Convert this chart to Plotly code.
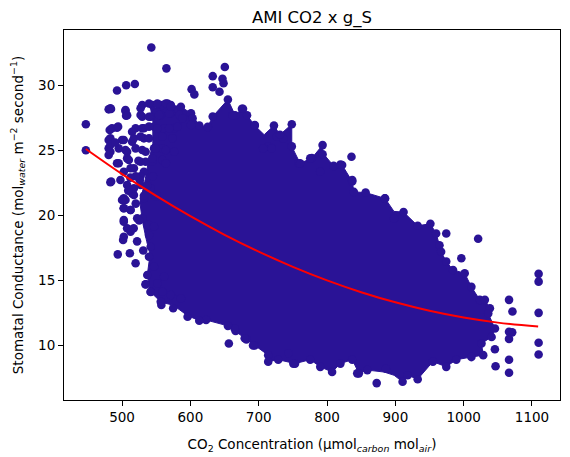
import plotly.graph_objs as go

# Outline of the solid (fully overplotted) part of the cloud, through the edge dots
core_x = [541.0, 571.4, 586.1, 600.9, 613.1, 625.4, 632.7, 654.9, 665.5, 675.5,
          682.9, 694.2, 708.0, 722.3, 731.1, 748.4, 748.4, 760.6, 777.8, 793.5,
          794.1, 809.7, 822.1, 836.9, 839.3, 856.5, 885.0, 898.0, 912.0, 932.7,
          951.3, 959.7, 964.6, 967.0, 974.5, 984.4, 1001.5, 1011.3, 1023.6, 1031.0,
          1038.4, 1036.0, 1045.8, 1040.9, 1026.1, 1028.6, 1011.3, 989.2, 974.5, 954.9,
          932.7, 918.0, 910.6, 898.2, 883.5, 859.0, 846.6, 836.9, 819.6, 807.4,
          790.1, 775.4, 753.2, 728.6, 713.9, 713.9, 694.2, 679.5, 666.2, 654.9,
          623.0, 613.0, 595.4, 574.8, 557.5, 541.3, 536.9, 541.0, 536.0, 530.0,
          526.0, 533.0, 538.0, 545.0, 545.0]
core_y = [28.20, 28.48, 28.35, 27.85, 26.90, 26.80, 27.60, 28.90, 27.70, 28.20,
          27.70, 26.90, 26.20, 26.90, 26.20, 27.00, 25.30, 24.00, 24.40, 25.40,
          24.77, 23.80, 23.87, 22.60, 21.80, 21.75, 21.30, 20.30, 20.25, 19.20,
          19.35, 18.60, 17.70, 17.20, 16.45, 15.80, 15.55, 14.50, 13.50, 13.50,
          12.85, 12.45, 11.30, 10.65, 10.15, 9.25, 9.10, 8.90, 8.35, 8.75,
          7.40, 7.70, 7.20, 7.70, 7.95, 8.10, 7.85, 8.90, 8.60, 7.95,
          8.35, 8.90, 8.60, 8.90, 8.75, 9.25, 10.00, 10.55, 11.10, 11.50,
          11.95, 11.90, 12.30, 13.10, 13.30, 14.12, 15.41, 17.00, 18.00, 19.50,
          21.00, 22.50, 24.00, 25.50, 27.00]

# Single dots: outliers, edge dots and the loose upper-left group
pts_x = [542.8, 564.9, 650.4, 632.7, 647.0, 648.5, 632.7, 642.6, 506.0, 518.7,
         492.6, 601.8, 605.8, 480.4, 447.0, 447.0, 484.0, 654.9, 675.5, 682.9,
         665.5, 632.7, 625.4, 613.1, 600.9, 586.1, 566.4, 554.1, 694.2, 722.3,
         748.4, 726.5, 713.9, 736.0, 731.1, 748.4, 758.1, 760.6, 777.8, 790.1,
         793.5, 793.5, 809.7, 819.6, 835.8, 836.9, 839.3, 856.5, 885.0, 898.2,
         912.0, 932.7, 951.3, 974.5, 959.7, 964.6, 967.0, 1021.2, 996.6, 974.5,
         984.4, 1001.5, 1011.3, 1023.6, 1031.0, 1038.4, 1036.0, 1045.8, 1040.9, 1026.1,
         1028.6, 1011.3, 989.2, 974.5, 954.9, 932.7, 918.0, 910.6, 886.0, 872.7,
         859.0, 846.6, 844.2, 836.9, 819.6, 807.4, 790.1, 775.4, 753.2, 750.7,
         743.4, 728.6, 713.9, 713.9, 694.2, 691.7, 682.0, 679.5, 666.2, 664.7,
         656.3, 654.9, 623.0, 613.0, 595.9, 574.8, 557.5, 541.9, 534.5, 1109.7,
         1109.7, 1066.4, 1071.4, 1109.7, 1109.7, 1109.7, 1066.4, 1071.0, 1066.4, 1045.7,
         1046.7, 1066.4, 1066.4, 529.5, 544.2, 559.0, 571.4, 529.5, 541.9, 556.6,
         571.4, 583.6, 483.8, 505.0, 505.9, 481.9, 492.6, 519.8, 532.0, 546.8,
         561.5, 576.3, 588.5, 603.2, 600.9, 480.4, 480.4, 480.4, 500.0, 514.7,
         532.0, 495.1, 507.4, 529.5, 546.8, 559.0, 507.4, 527.1, 544.2, 559.0,
         492.6, 502.5, 517.3, 532.0, 482.9, 497.6, 507.4, 514.7, 502.5, 527.1,
         541.9, 505.0, 517.3, 532.0, 549.3, 502.5, 512.4, 522.1, 502.5, 507.4,
         536.9, 539.4, 501.5, 493.7, 511.4, 519.8, 541.9, 539.4, 546.8, 536.9,
         534.5, 541.9, 559.0, 551.6, 561.5, 556.6, 571.4, 586.1, 677.0, 662.2,
         694.2, 718.9, 706.5, 775.4, 822.1, 836.9, 884.5, 482.9, 505.0, 507.4,
         527.1, 539.4, 551.6, 564.0, 527.1, 539.4, 554.1, 568.9, 571.4, 485.3,
         494.2, 514.7, 529.5, 539.4, 551.6, 568.9, 581.1, 482.9, 482.9, 502.5,
         517.3, 527.1, 539.4, 559.0, 573.7, 482.9, 505.0, 519.8, 534.5, 549.3,
         564.0, 576.3, 495.1, 509.9, 512.4, 534.5, 544.2, 564.0, 500.0, 502.5,
         512.4, 514.7, 517.3, 502.5, 512.4, 502.5, 529.5, 539.4, 546.8, 527.0,
         537.0, 532.0, 545.0, 550.0, 526.0, 522.0, 531.0, 520.0, 525.0, 517.0,
         509.0, 520.0, 512.0, 524.0, 490.0]
pts_y = [32.90, 31.30, 31.40, 30.70, 30.50, 30.15, 29.85, 29.50, 30.00, 30.10,
         29.60, 29.70, 29.30, 28.15, 27.00, 25.00, 22.60, 28.90, 28.20, 27.70,
         27.70, 27.60, 26.80, 26.90, 27.85, 28.35, 28.60, 28.50, 26.90, 26.90,
         27.00, 26.05, 25.30, 25.90, 26.20, 25.30, 24.00, 24.00, 24.40, 23.35,
         25.40, 24.70, 23.80, 23.90, 24.50, 22.60, 21.80, 21.75, 21.30, 19.77,
         20.25, 19.20, 19.35, 18.60, 18.60, 17.70, 17.20, 18.20, 16.70, 16.45,
         15.80, 15.55, 14.50, 13.50, 13.50, 12.85, 12.45, 11.30, 10.65, 10.15,
         9.25, 9.10, 8.90, 8.35, 8.75, 7.40, 7.70, 7.20, 8.20, 7.10,
         8.10, 7.85, 7.85, 8.90, 8.60, 7.95, 8.35, 8.90, 8.60, 8.60,
         9.40, 8.90, 9.25, 8.75, 10.00, 10.00, 10.45, 10.55, 11.10, 11.30,
         10.15, 11.50, 11.95, 11.90, 12.20, 12.85, 13.10, 14.10, 14.70, 15.50,
         14.90, 13.50, 12.60, 12.50, 10.20, 9.30, 11.05, 11.00, 10.50, 9.70,
         8.40, 8.90, 7.90, 28.48, 28.48, 28.48, 28.48, 27.58, 27.58, 27.72,
         27.85, 27.72, 28.18, 28.02, 27.66, 26.56, 26.74, 26.69, 26.69, 26.82,
         26.69, 26.69, 27.46, 27.46, 26.95, 25.79, 25.15, 24.64, 25.79, 25.66,
         25.92, 25.15, 24.89, 25.02, 25.15, 25.15, 24.38, 24.12, 24.12, 24.25,
         24.00, 23.35, 23.62, 23.35, 22.54, 22.72, 22.33, 21.82, 21.31, 22.33,
         22.08, 21.18, 21.56, 21.31, 21.43, 20.54, 20.41, 19.77, 19.64, 19.00,
         19.25, 18.48, 18.10, 17.00, 17.08, 16.31, 17.58, 16.82, 16.05, 15.41,
         14.69, 14.12, 14.12, 14.77, 15.28, 13.35, 13.87, 13.62, 28.20, 27.70,
         26.95, 25.15, 25.15, 24.38, 23.87, 22.72, 21.30, 28.23, 28.10, 27.70,
         28.23, 28.60, 28.60, 28.60, 27.72, 27.58, 27.72, 27.85, 28.36, 26.69,
         26.82, 26.43, 26.69, 26.82, 26.69, 26.69, 26.82, 25.92, 25.41, 25.79,
         25.92, 26.05, 25.92, 26.05, 25.92, 24.89, 25.02, 25.15, 24.89, 25.15,
         25.02, 24.89, 24.00, 24.25, 23.62, 24.12, 24.38, 24.00, 21.18, 20.54,
         20.41, 21.69, 22.08, 19.51, 18.74, 18.35, 19.77, 19.25, 19.12, 23.00,
         22.30, 21.50, 23.00, 21.60, 22.70, 18.00, 17.30, 20.90, 19.60, 19.00,
         21.90, 23.00, 22.90, 24.20, 25.60]

# Fitted curve
fit_x = [447, 500, 550, 600, 650, 700, 750, 800, 850, 900, 950, 1000, 1050, 1109]
fit_y = [25.10, 23.17, 21.49, 19.93, 18.50, 17.21, 16.04, 15.00, 14.09, 13.31,
         12.66, 12.14, 11.75, 11.45]

dot_color = "rgb(42,19,150)"

core = go.Scatter(x=core_x, y=core_y, mode="lines", fill="toself",
                  fillcolor=dot_color, line=dict(width=1, color=dot_color),
                  hoverinfo="skip", showlegend=False)
dots = go.Scatter(x=pts_x, y=pts_y, mode="markers",
                  marker=dict(size=8.6, color=dot_color, line=dict(width=0)),
                  showlegend=False)
fit = go.Scatter(x=fit_x, y=fit_y, mode="lines",
                 line=dict(color="red", width=2, shape="spline"),
                 showlegend=False)

axis_style = dict(showline=True, linecolor="black", linewidth=1, mirror=True,
                  ticks="outside", ticklen=5, tickcolor="black", showgrid=False,
                  zeroline=False, automargin=False,
                  tickfont=dict(size=13.5, color="black"))

# the page body adds 8px, so the figure is drawn 8px smaller
layout = go.Layout(
    width=562, height=449,
    margin=dict(l=56, r=10, t=22, b=57),
    paper_bgcolor="white", plot_bgcolor="white",
    font=dict(family="DejaVu Sans", color="black"),
    title=dict(text="AMI CO2 x g_S", x=0.5, xref="paper", xanchor="center",
               y=1, yref="paper", yanchor="bottom", pad=dict(b=7),
               font=dict(size=16.5, color="black")),
    xaxis=dict(range=[415, 1141], tickvals=[500, 600, 700, 800, 900, 1000, 1100],
               title=dict(text="CO<sub>2</sub> Concentration (μmol<sub><i>carbon</i></sub> mol<sub><i>air</i></sub>)",
                          font=dict(size=13.5)),
               **axis_style),
    yaxis=dict(range=[5.8, 34.25], tickvals=[10, 15, 20, 25, 30],
               title=dict(text="Stomatal Conductance (mol<sub><i>water</i></sub> m<sup>−2</sup> second<sup>−1</sup>)",
                          font=dict(size=13.5)),
               **axis_style),
)

fig = go.Figure(data=[core, dots, fit], layout=layout)
fig.write_html("out.html")
